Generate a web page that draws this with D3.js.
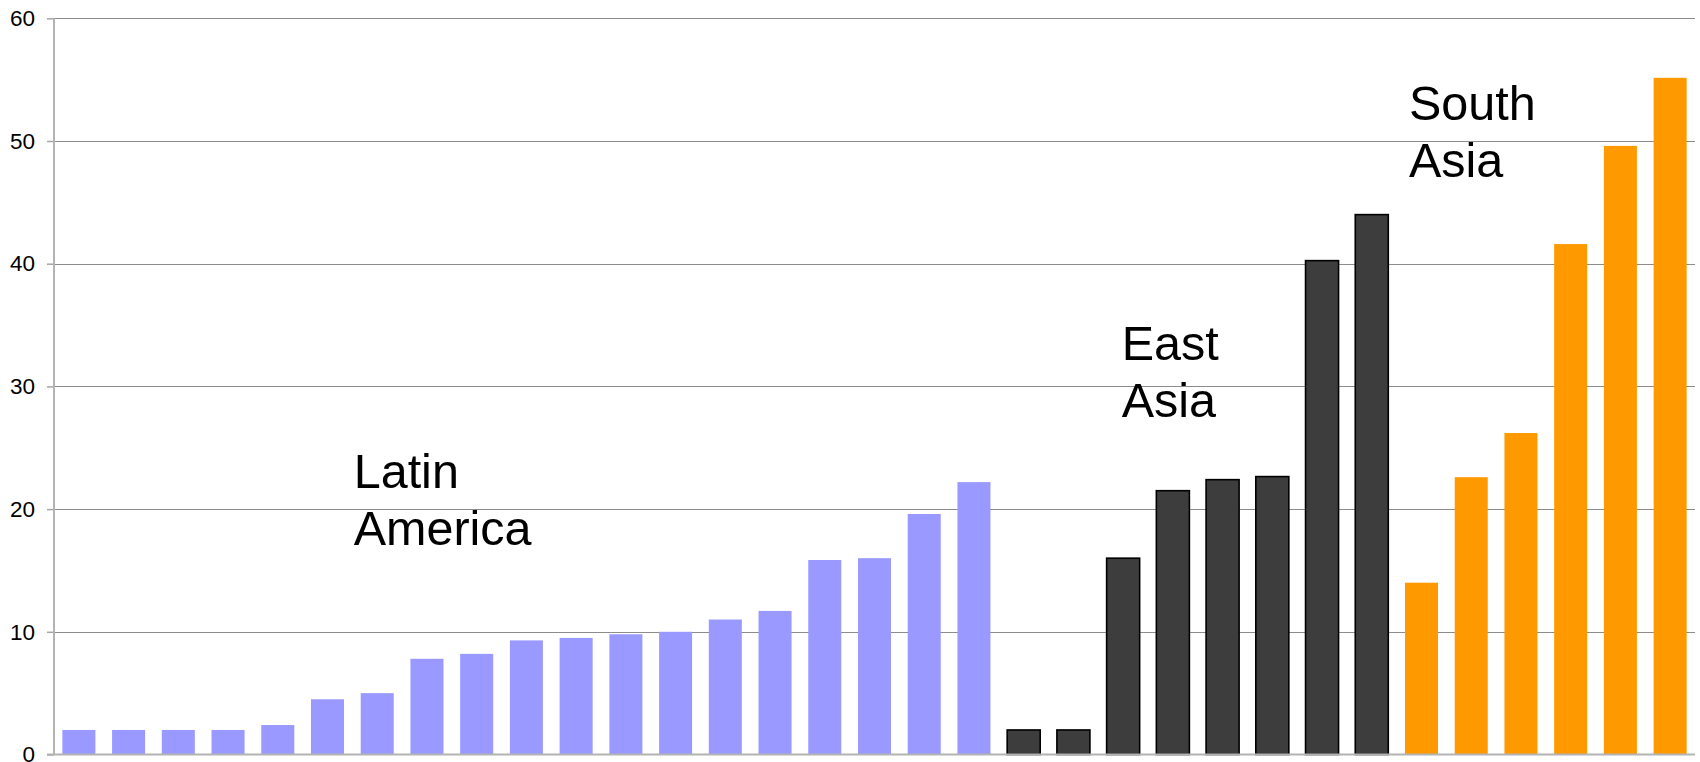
<!DOCTYPE html>
<html>
<head>
<meta charset="utf-8">
<script src="https://cdn.jsdelivr.net/npm/d3@7"></script>
<style>
  html, body { margin: 0; padding: 0; background: #ffffff; }
  svg { display: block; }
  text { font-family: "Liberation Sans", Arial, sans-serif; }
</style>
</head>
<body>
<svg id="chart" width="1700" height="762"></svg>
<script>
// ---- data ----
const latinAmerica = [2, 2, 2, 2, 2.4, 4.5, 5, 7.8, 8.2, 9.3, 9.5, 9.8, 10, 11, 11.7, 15.85, 16, 19.6, 22.2];
const eastAsia = [2, 2, 16, 21.5, 22.4, 22.65, 40.25, 44];
const southAsia = [14, 22.6, 26.2, 41.6, 49.6, 55.15];
const regionNames = ["Latin America", "East Asia", "South Asia"];
const regionLabelLines = [["Latin", "America"], ["East", "Asia"], ["South", "Asia"]];
const yTicks = [0, 10, 20, 30, 40, 50, 60];

// ---- build rows ----
const seriesList = [latinAmerica, eastAsia, southAsia];
const rows = [];
seriesList.forEach((vals, r) => {
  vals.forEach((v, i) => rows.push({ id: regionNames[r] + " " + (i + 1), region: r, value: v }));
});

const W = 1700, H = 762;
const margin = { top: 18.3, right: 5, bottom: 7.5, left: 54 };

const svg = d3.select("#chart");

const x = d3.scaleBand()
  .domain(rows.map(d => d.id))
  .range([margin.left, W - margin.right])
  .paddingInner(0.336)
  .paddingOuter(0.168);

const y = d3.scaleLinear()
  .domain([0, 60])
  .range([H - margin.bottom, margin.top]);

// gridlines
svg.append("g")
  .selectAll("line")
  .data(yTicks.filter(t => t > 0))
  .join("line")
  .attr("x1", margin.left)
  .attr("x2", W - margin.right)
  .attr("y1", d => Math.round(y(d)) + 0.5)
  .attr("y2", d => Math.round(y(d)) + 0.5)
  .attr("stroke", "#8c8c8c")
  .attr("stroke-width", 1);

// bars
const fills = ["#9999ff", "#3d3d3d", "#ff9900"];
svg.append("g")
  .selectAll("rect")
  .data(rows)
  .join("rect")
  .attr("x", d => x(d.id))
  .attr("y", d => y(d.value))
  .attr("width", x.bandwidth())
  .attr("height", d => y(0) - y(d.value))
  .attr("fill", d => fills[d.region])
  .attr("stroke", d => d.region === 1 ? "#000000" : "none")
  .attr("stroke-width", d => d.region === 1 ? 1.6 : 0);

// y axis
const yAxis = d3.axisLeft(y)
  .tickValues(yTicks)
  .tickSize(7)
  .tickPadding(12)
  .tickFormat(d3.format("d"));

const gy = svg.append("g")
  .attr("transform", `translate(${margin.left},0)`)
  .call(yAxis);
gy.select(".domain").remove();
gy.selectAll(".tick line").attr("stroke", "#a6a6a6").attr("stroke-width", 1.5);
gy.selectAll(".tick text")
  .attr("fill", "#000000")
  .style("font-size", "22.5px")
  .style("font-family", "'Liberation Sans', Arial, sans-serif");

// axis lines
svg.append("line")
  .attr("x1", margin.left).attr("x2", margin.left)
  .attr("y1", y(60)).attr("y2", y(0))
  .attr("stroke", "#b3b3b3").attr("stroke-width", 2);
svg.append("line")
  .attr("x1", margin.left - 7).attr("x2", W - margin.right)
  .attr("y1", y(0)).attr("y2", y(0))
  .attr("stroke", "#b3b3b3").attr("stroke-width", 2);

// region annotations: anchored on a bar of each region and a value on the y scale
const labelAnchors = [
  { bar: regionNames[0] + " 7", value: 21.7, dx: -7 },
  { bar: regionNames[1] + " 3", value: 32.15, dx: 15 },
  { bar: regionNames[2] + " 1", value: 51.7, dx: 4 }
];
const lineHeight = 57;
labelAnchors.forEach((a, r) => {
  const t = svg.append("text")
    .attr("x", x(a.bar) + a.dx)
    .attr("y", y(a.value))
    .attr("fill", "#000000")
    .style("font-size", "48.5px");
  regionLabelLines[r].forEach((ln, k) => {
    t.append("tspan")
      .attr("x", x(a.bar) + a.dx)
      .attr("dy", k === 0 ? 0 : lineHeight)
      .text(ln);
  });
});
</script>
</body>
</html>
